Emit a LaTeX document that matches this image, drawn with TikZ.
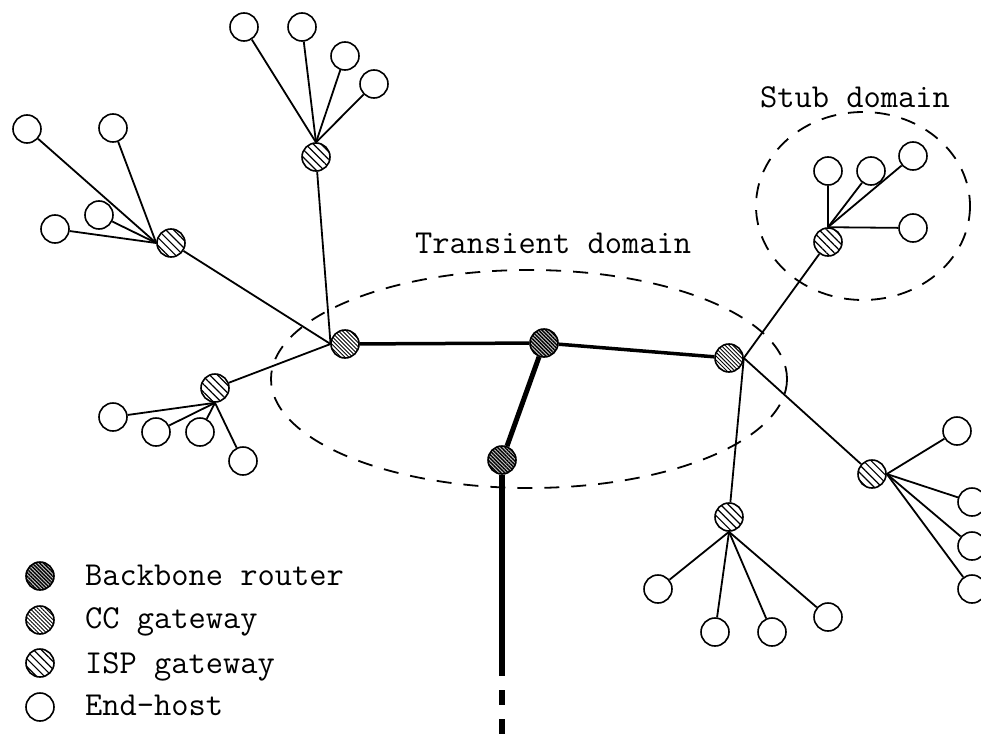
\documentclass[tikz,border=0pt]{standalone}
\usepackage{fontspec}
\usetikzlibrary{patterns.meta}
\pgfdeclarelayer{bg}
\pgfsetlayers{bg,main}
\tikzset{
  gnode/.style={circle, draw, line width=1.6pt, minimum size=28pt, inner sep=0pt},
  host/.style={gnode, fill=white},
  isp/.style={gnode, preaction={fill=white}, pattern={Lines[angle=-45,distance=5.5pt,line width=1.2pt]}},
  ccgw/.style={gnode, preaction={fill=white}, pattern={Lines[angle=-45,distance=2.8pt,line width=0.9pt]}},
  bbr/.style={gnode, preaction={fill=gray!45}, pattern={Lines[angle=-45,distance=2.6pt,line width=1.4pt]}},
  link/.style={line width=1.8pt},
  trunk/.style={line width=3.5pt},
  core/.style={line width=5pt},
  domainline/.style={line width=1.8pt, dash pattern=on 15pt off 12pt},
  lbl/.style={anchor=base west, inner sep=0pt, font=\ttfamily\fontsize{33.5pt}{36pt}\selectfont}
}
\begin{document}
\begin{tikzpicture}[x=1pt,y=-1pt]
\useasboundingbox (0,0) rectangle (981,733);
% domains
\draw[domainline] (529,379) ellipse [x radius=258, y radius=109];
\draw[domainline] (863,206) ellipse [x radius=107, y radius=94];
\node[lbl] (stublbl) at (760,107) {Stub domain};
\node[lbl] (translbl) at (415,253) {Transient domain};
% routers and gateways
\node[ccgw] (CC) at (345,344) {};
\node[bbr] (B1) at (544,343) {};
\node[bbr] (B2) at (502,460) {};
\node[ccgw] (CC2) at (729,358) {};
\node[isp] (T) at (316,157) {};
\node[isp] (L) at (171,243) {};
\node[isp] (M) at (215,388) {};
\node[isp] (S) at (828,242) {};
\node[isp] (D) at (729,517) {};
\node[isp] (R) at (872,474) {};
% hosts
\node[host] (t1) at (244,27) {};
\node[host] (t2) at (302,27) {};
\node[host] (t3) at (345,56) {};
\node[host] (t4) at (374,84) {};
\node[host] (l1) at (27,129) {};
\node[host] (l2) at (113,128) {};
\node[host] (l3) at (99,215) {};
\node[host] (l4) at (55,229) {};
\node[host] (m1) at (113,417) {};
\node[host] (m2) at (156,432) {};
\node[host] (m3) at (200,432) {};
\node[host] (m4) at (243,461) {};
\node[host] (s1) at (828,171) {};
\node[host] (s2) at (871,171) {};
\node[host] (s3) at (913,156) {};
\node[host] (s4) at (913,228) {};
\node[host] (d1) at (658,589) {};
\node[host] (d2) at (715,632) {};
\node[host] (d3) at (772,632) {};
\node[host] (d4) at (828,617) {};
\node[host] (r1) at (957,431) {};
\node[host] (r2) at (972,502) {};
\node[host] (r3) at (972,546) {};
\node[host] (r4) at (972,589) {};
% connectors (behind nodes)
\coordinate (bend) at (502,676);
\coordinate (tail) at (502,745);
\begin{pgfonlayer}{bg}
\draw[trunk] (CC) -- (B1);
\draw[trunk] (B1) -- (CC2);
\draw[core] (B1) -- (B2);
\draw[line width=6pt] (B2) -- (bend);
\draw[line width=6pt, dash pattern=on 15pt off 14pt, dash phase=15pt] (bend) -- (tail);
\draw[link] (T) -- (CC.west);
\draw[link] (L) -- (CC.west);
\draw[link] (M) -- (CC.west);
\draw[link] (CC2.east) -- (S);
\draw[link] (CC2.east) -- (D);
\draw[link] (CC2.east) -- (R);
\foreach \h in {t1,t2,t3,t4} \draw[link] (T.north) -- (\h);
\foreach \h in {l1,l2,l3,l4} \draw[link] (L.west) -- (\h);
\foreach \h in {m1,m2,m3,m4} \draw[link] (M.south) -- (\h);
\foreach \h in {s1,s2,s3,s4} \draw[link] (S.north) -- (\h);
\foreach \h in {d1,d2,d3,d4} \draw[link] (D.south) -- (\h);
\foreach \h in {r1,r2,r3,r4} \draw[link] (R.east) -- (\h);
\end{pgfonlayer}
% legend
\node[bbr] (lg1) at (40,576) {};
\node[ccgw] (lg2) at (40,620) {};
\node[isp] (lg3) at (40,663) {};
\node[host] (lg4) at (40,707) {};
\node[lbl] (lt1) at (85,585) {Backbone router};
\node[lbl] (lt2) at (85,628) {CC gateway};
\node[lbl] (lt3) at (85,673) {ISP gateway};
\node[lbl] (lt4) at (85,715) {End-host};
\end{tikzpicture}
\end{document}
